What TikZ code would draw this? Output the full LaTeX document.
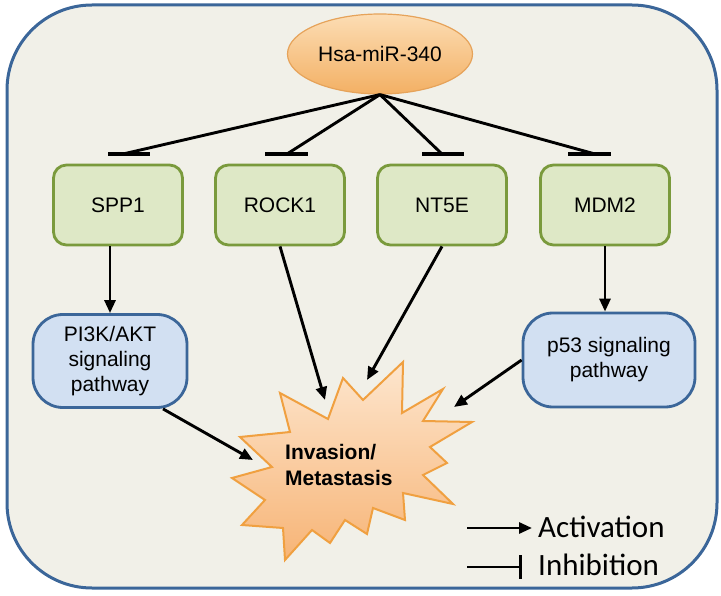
\documentclass[tikz,border=0pt]{standalone}
\usepackage{fontspec}
\setmainfont{Liberation Sans}
\newfontfamily\legfont{Carlito}
\usetikzlibrary{arrows.meta,shapes.geometric}
\definecolor{bgc}{HTML}{F1F0E8}
\definecolor{framec}{HTML}{3B6699}
\definecolor{genefill}{HTML}{DEE8C6}
\definecolor{genedraw}{HTML}{7A9A3C}
\definecolor{pathfill}{HTML}{D2E0F2}
\definecolor{pathdraw}{HTML}{3B6699}
\definecolor{mirtop}{HTML}{FCDDB4}
\definecolor{mirbot}{HTML}{F3B064}
\definecolor{mirdraw}{HTML}{E6A35A}
\definecolor{startop}{HTML}{FDE6CE}
\definecolor{starbot}{HTML}{F7B476}
\definecolor{stardraw}{HTML}{F0A040}
\tikzset{
  mirnode/.style={ellipse, draw=mirdraw, line width=1.2pt, top color=mirtop, bottom color=mirbot,
    minimum width=185pt, minimum height=80pt, inner sep=0pt, font=\fontsize{21}{25}\selectfont},
  gene/.style={rectangle, rounded corners=13pt, draw=genedraw, line width=2.8pt, fill=genefill,
    minimum width=129pt, minimum height=80pt, inner sep=0pt, font=\fontsize{21}{25}\selectfont},
  pathway/.style={rectangle, rounded corners=30pt, draw=pathdraw, line width=2.8pt, fill=pathfill,
    inner sep=0pt, align=center, font=\fontsize{21}{25}\selectfont},
  act/.style={line width=2.9pt, -{Triangle[length=13pt,width=11pt]}},
  inh/.style={line width=2.9pt},
  tbar/.style={line width=3.4pt},
}
\begin{document}
\begin{tikzpicture}[x=1pt,y=-1pt]
\useasboundingbox (0,0) rectangle (721,596);
\draw[framec, line width=3pt, fill=bgc, rounded corners=85pt] (7,5) rectangle (717,588);

% star
\draw[line width=2pt, draw=stardraw, top color=startop, bottom color=starbot, line join=miter]
  (403,362) -- (402,413) -- (443,389) -- (423,421) -- (472,422) -- (430,447) -- (447,463)
  -- (423,475) -- (453,504) -- (403,493) -- (405,520) -- (373,508) -- (367,534) -- (345,520)
  -- (330,543) -- (312,530) -- (285,560) -- (283,528) -- (242,525) -- (265,500) -- (232,478)
  -- (272,467) -- (240,437) -- (290,432) -- (280,393) -- (328,419) -- (343,378) -- (363,400) -- cycle;
\node[anchor=west, align=left, inner sep=0pt, font=\bfseries\fontsize{21}{25.5}\selectfont] (inv) at (285,465) {Invasion/\\Metastasis};

% nodes
\node[mirnode] (mir) at (380,54) {Hsa-miR-340};
\node[gene] (spp1) at (118,205) {SPP1};
\node[gene] (rock1) at (280,205) {ROCK1};
\node[gene] (nt5e) at (442,205) {NT5E};
\node[gene] (mdm2) at (605,205) {MDM2};
\node[pathway, minimum width=154pt, minimum height=93pt] (pi3k) at (110,361) {PI3K/AKT\\signaling\\pathway};
\node[pathway, minimum width=172pt, minimum height=94pt] (p53) at (609,360) {p53 signaling\\pathway};

% inhibition bars
\coordinate (t1) at (123,154); \coordinate (t1l) at (108,154); \coordinate (t1r) at (150,154);
\coordinate (t2) at (287,154); \coordinate (t2l) at (265,154); \coordinate (t2r) at (308,154);
\coordinate (t3) at (442,154); \coordinate (t3l) at (422,154); \coordinate (t3r) at (464,154);
\coordinate (t4) at (595,154); \coordinate (t4l) at (568,154); \coordinate (t4r) at (611,154);
\draw[inh] (mir.south) -- (t1);
\draw[inh] (mir.south) -- (t2);
\draw[inh] (mir.south) -- (t3);
\draw[inh] (mir.south) -- (t4);
\draw[tbar] (t1l) -- (t1r);
\draw[tbar] (t2l) -- (t2r);
\draw[tbar] (t3l) -- (t3r);
\draw[tbar] (t4l) -- (t4r);

% activation arrows
\coordinate (s1) at (325,400);
\coordinate (s2) at (367,380);
\coordinate (s3) at (454,407);
\coordinate (s4) at (253,460);
\draw[act] (pi3k.north |- spp1.south) -- (pi3k.north);
\draw[act] (mdm2.south) -- (mdm2.south |- p53.north);
\draw[act] (rock1.south) -- (s1);
\draw[act] (nt5e.south) -- (s2);
\draw[act] (p53.west) -- (s3);
\draw[act] ([xshift=53pt]pi3k.south) -- (s4);

% legend
\node[anchor=west, inner sep=0pt, font=\legfont\fontsize{31}{36}\selectfont] (lact) at (538,527) {Activation};
\node[anchor=west, inner sep=0pt, font=\legfont\fontsize{31}{36}\selectfont] (linh) at (538,565) {Inhibition};
\coordinate (la) at (467,528);
\coordinate (li) at (467,567);
\coordinate (lie) at (522,567);
\draw[act] (la) -- ([xshift=-6pt]lact.west |- la);
\draw[inh, -{Bar[width=24pt]}] (li) -- (lie);
\end{tikzpicture}
\end{document}
